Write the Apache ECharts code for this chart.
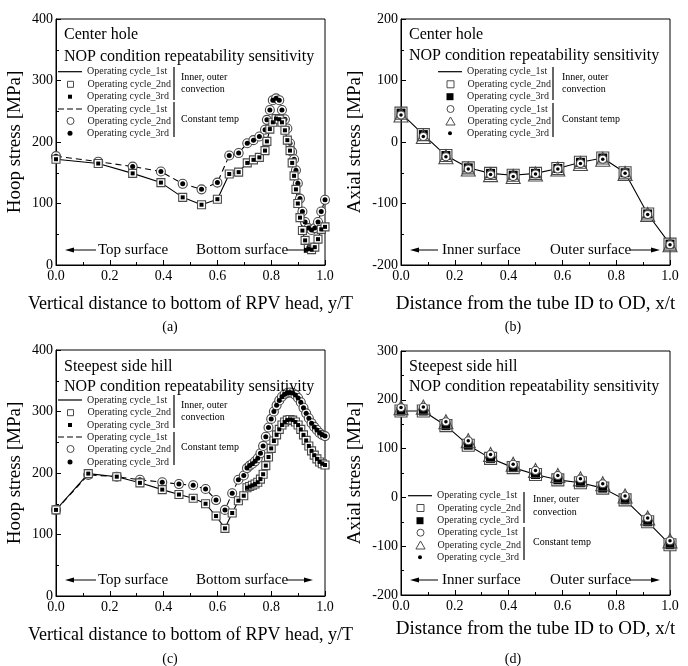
<!DOCTYPE html>
<html><head><meta charset="utf-8">
<script src="https://cdn.jsdelivr.net/npm/echarts@6/dist/echarts.min.js"></script>
<style>html,body{margin:0;padding:0;background:#fff}#c{width:688px;height:666px}</style>
</head><body><div id="c"></div>
<script>
const FONT = '"Liberation Serif", "Times New Roman", serif';

// ---------- data ----------
// (a) Center hole, hoop stress
const aX = [0, 0.157, 0.285, 0.39, 0.471, 0.541, 0.6, 0.644, 0.679, 0.711, 0.734, 0.756, 0.777,
  0.784, 0.795, 0.806, 0.818, 0.83, 0.84, 0.851, 0.86, 0.87, 0.878, 0.885, 0.892,
  0.899, 0.907, 0.916, 0.926, 0.938, 0.95, 0.962, 0.974, 0.986, 1.0];
const aConv = [172, 165, 149, 134, 110, 98, 107, 148, 151, 166, 171, 175, 186,
  201, 221, 232, 238, 237, 232, 219, 203, 186, 166, 145, 123,
  100, 77, 56, 40, 27, 25, 29, 42, 58, 62];
const aConst = [177, 168, 160, 152, 132, 123, 134, 178, 182, 198, 203, 209, 220,
  236, 252, 268, 271, 268, 252, 237, 222, 198, 184, 172, 154,
  133, 108, 87, 70, 60, 57, 60, 70, 87, 106];

// (b) Center hole, axial stress
const bX = [0, 0.083, 0.167, 0.25, 0.333, 0.417, 0.5, 0.583, 0.667, 0.75, 0.833, 0.917, 1.0];
const bConv = [47, 12, -22, -42, -51, -54, -51, -43, -33, -26, -50, -117, -166];
const bConst = [44, 9, -24, -44, -53, -56, -52, -44, -35, -28, -51, -118, -167];

// (c) Steepest side hill, hoop stress
const cX = [0, 0.12, 0.226, 0.312, 0.395, 0.457, 0.51, 0.556, 0.595, 0.628, 0.655, 0.678, 0.698,
  0.71, 0.72, 0.73, 0.74, 0.75, 0.76, 0.77, 0.78, 0.79, 0.80,
  0.81, 0.82, 0.83, 0.84, 0.85, 0.86, 0.87, 0.88, 0.89, 0.90,
  0.91, 0.92, 0.93, 0.94, 0.95, 0.96, 0.97, 0.98, 0.99, 1.00];
const cConv = [140, 199, 194, 184, 173, 165, 159, 150, 130, 110, 135, 155, 163,
  176, 178, 180, 182, 185, 190, 198, 212, 226, 240,
  252, 262, 271, 278, 283, 286, 287, 286, 283, 278,
  271, 262, 253, 244, 236, 229, 223, 218, 215, 213];
const cConst = [140, 197, 194, 189, 185, 182, 180, 174, 156, 140, 167, 189, 196,
  208, 212, 215, 219, 224, 232, 244, 259, 274, 288,
  300, 310, 318, 324, 328, 330, 331, 330, 327, 322,
  315, 306, 297, 289, 281, 275, 270, 265, 262, 260];

// (d) Steepest side hill, axial stress
const dX = [0, 0.083, 0.167, 0.25, 0.333, 0.417, 0.5, 0.583, 0.667, 0.75, 0.833, 0.917, 1.0];
const dConv = [177, 177, 147, 107, 80, 61, 47, 36, 30, 19, -5, -50, -97];
const dConst = [184, 185, 155, 116, 88, 68, 55, 45, 38, 28, 3, -42, -89];

// ---------- text ----------
const cycleLabels = ['Operating cycle_1st', 'Operating cycle_2nd', 'Operating cycle_3rd'];
const groupLabels = [['Inner, outer', 'convection'], ['Constant temp']];
const panelTitles = [
  ['Center hole', 'NOP condition repeatability sensitivity'],
  ['Center hole', 'NOP condition repeatability sensitivity'],
  ['Steepest side hill', 'NOP condition repeatability sensitivity'],
  ['Steepest side hill', 'NOP condition repeatability sensitivity']
];
const xNames = ['Vertical distance to bottom of RPV head, y/T', 'Distance from the tube ID to OD, x/t',
  'Vertical distance to bottom of RPV head, y/T', 'Distance from the tube ID to OD, x/t'];
const yNames = ['Hoop stress [MPa]', 'Axial stress [MPa]', 'Hoop stress [MPa]', 'Axial stress [MPa]'];
const yRanges = [[0, 400], [-200, 200], [0, 400], [-200, 300]];
const subLabels = ['(a)', '(b)', '(c)', '(d)'];
const surfaceLabels = [['Top surface', 'Bottom surface'], ['Inner surface', 'Outer surface'],
  ['Top surface', 'Bottom surface'], ['Inner surface', 'Outer surface']];

// ---------- layout ----------
const grids = [
  {left: 56, top: 19, width: 269, height: 246},
  {left: 401, top: 19, width: 269, height: 246},
  {left: 56, top: 350, width: 269, height: 246},
  {left: 401, top: 351, width: 269, height: 244}
];
const xNameSize = [18, 19, 18, 19];
const xNameGap = [30, 30, 30, 25];
const yNameGap = [31, 36, 31, 36];

const pairs = (xs, ys) => xs.map((x, i) => [x, ys[i]]);

const xAxes = [], yAxes = [];
grids.forEach((g, i) => {
  xAxes.push({
    type: 'value', gridIndex: i, min: 0, max: 1, interval: 0.2,
    name: xNames[i], nameLocation: 'middle', nameGap: xNameGap[i],
    nameTextStyle: {fontFamily: FONT, fontSize: xNameSize[i], color: '#000'},
    axisLine: {show: true, onZero: false, lineStyle: {color: '#000', width: 1}},
    axisTick: {show: true, inside: true, length: 5, lineStyle: {color: '#000'}},
    minorTick: {show: true, splitNumber: 2, length: 3, lineStyle: {color: '#000'}},
    splitLine: {show: false},
    axisLabel: {fontFamily: FONT, fontSize: 14, color: '#000', margin: 4,
      formatter: v => v.toFixed(1), showMinLabel: true, showMaxLabel: true}
  });
  yAxes.push({
    type: 'value', gridIndex: i, min: yRanges[i][0], max: yRanges[i][1], interval: 100,
    name: yNames[i], nameLocation: 'middle', nameGap: yNameGap[i],
    nameTextStyle: {fontFamily: FONT, fontSize: 19, color: '#000'},
    axisLine: {show: true, onZero: false, lineStyle: {color: '#000', width: 1}},
    axisTick: {show: true, inside: true, length: 5, lineStyle: {color: '#000'}},
    minorTick: {show: true, splitNumber: 2, length: 3, lineStyle: {color: '#000'}},
    splitLine: {show: false},
    axisLabel: {fontFamily: FONT, fontSize: 14, color: '#000', margin: 3,
      showMinLabel: true, showMaxLabel: true}
  });
});

const GRAY = '#4a4a4a';
const series = [];
const legends = [];

function addLine(name, gi, data, dashed, z) {
  series.push({name, type: 'line', xAxisIndex: gi, yAxisIndex: gi, data, symbol: 'none', showSymbol: false,
    itemStyle: {color: '#000'},
    lineStyle: {color: '#000', width: 1.1, type: dashed ? [6, 4] : 'solid'}, z, silent: true});
}
function addScatter(name, gi, data, symbol, size, fill, stroke, z) {
  series.push({name, type: 'scatter', xAxisIndex: gi, yAxisIndex: gi, data, symbol, symbolSize: size,
    itemStyle: {color: fill, borderColor: stroke || fill, borderWidth: stroke ? 1.1 : 0, opacity: 1}, z, silent: true});
}
const SOLID_ICON = 'path://M0,0H24V1.2H0Z';
const DASH_ICON = 'path://M0,0H6V1.2H0Z M9,0H15V1.2H9Z M18,0H24V1.2H18Z';
function addLegendRow(name, label, lx, cy, icon) {
  const item = {name};
  let ih = 10, left = lx;
  if (icon.line) {
    item.icon = icon.dashed ? DASH_ICON : SOLID_ICON;
    item.itemStyle = {color: '#000', borderWidth: 0};
  } else {
    const s = icon.size;
    ih = s;
    let w = s;
    if (icon.shape === 'circle') item.icon = 'circle';
    else if (icon.shape === 'square') item.icon = 'path://M0,0H' + s + 'V' + s + 'H0Z';
    else { w = s * 1.15; item.icon = 'path://M' + (w / 2) + ',0L' + w + ',' + s + 'H0Z'; }
    left = lx + 12 - w / 2;
    item.itemStyle = {color: icon.fill, borderColor: icon.stroke || icon.fill, borderWidth: icon.stroke ? 1 : 0};
  }
  const h = Math.max(ih, 12);
  legends.push({
    data: [item], left, top: cy - h / 2, padding: 0, itemGap: 0, itemWidth: 24,
    itemHeight: ih, selectedMode: false, symbolKeepAspect: true,
    formatter: () => label,
    textStyle: {fontFamily: FONT, fontSize: 10, color: '#222', lineHeight: 12}
  });
}

// panel a & c (hoop)
[[0, aX, aConv, aConst, 'a', 58, [71.7, 84.3, 96.7, 109, 121, 133.3]],
 [2, cX, cConv, cConst, 'c', 58, [400, 412.7, 425, 437, 449, 462]]].forEach(([gi, xs, conv, cons, k, lx, rows]) => {
  addLine(k + '1', gi, pairs(xs, conv), false, 2);
  addScatter(k + '2', gi, pairs(xs, conv), 'rect', 8, '#fff', GRAY, 4);
  addScatter(k + '3', gi, pairs(xs, conv), 'rect', 4, '#000', null, 5);
  addLine(k + '4', gi, pairs(xs, cons), true, 2);
  addScatter(k + '5', gi, pairs(xs, cons), 'circle', 9, '#fff', GRAY, 3);
  addScatter(k + '6', gi, pairs(xs, cons), 'circle', 5, '#000', null, 3.5);
  const icons = [{line: true}, {shape: 'square', size: 6, fill: '#fff', stroke: GRAY}, {shape: 'square', size: 4, fill: '#000'},
    {line: true, dashed: true}, {shape: 'circle', size: 7, fill: '#fff', stroke: GRAY}, {shape: 'circle', size: 5, fill: '#000'}];
  for (let r = 0; r < 6; r++) addLegendRow(k + (r + 1), cycleLabels[r % 3], lx, rows[r], icons[r]);
});

// panel b & d (axial)
[[1, bX, bConv, bConst, 'b', 438, [71.7, 84.3, 96.7, 109, 121, 133.3]],
 [3, dX, dConv, dConst, 'd', 408, [495.7, 508, 520.7, 532.7, 545, 557.3]]].forEach(([gi, xs, conv, cons, k, lx, rows]) => {
  addLine(k + '1', gi, pairs(xs, conv), false, 2);
  addScatter(k + '2', gi, pairs(xs, conv), 'rect', 12, '#fff', GRAY, 3);
  addScatter(k + '3', gi, pairs(xs, conv), 'rect', 9, '#000', null, 3.2);
  addScatter(k + '4', gi, pairs(xs, cons), 'circle', 8, '#fff', GRAY, 3.6);
  addScatter(k + '5', gi, pairs(xs, cons), 'triangle', 14, 'rgba(255,255,255,0)', GRAY, 3.4);
  addScatter(k + '6', gi, pairs(xs, cons), 'circle', 3.5, '#000', null, 3.8);
  const icons = [{line: true}, {shape: 'square', size: 7, fill: '#fff', stroke: GRAY}, {shape: 'square', size: 7, fill: '#000'},
    {shape: 'circle', size: 7, fill: '#fff', stroke: GRAY}, {shape: 'triangle', size: 8, fill: '#fff', stroke: GRAY},
    {shape: 'circle', size: 4, fill: '#000'}];
  for (let r = 0; r < 6; r++) addLegendRow(k + (r + 1), cycleLabels[r % 3], lx, rows[r], icons[r]);
});

// ---------- annotations ----------
const graphic = [];
function txt(x, y, text, size, align) {
  graphic.push({type: 'text', x, y, silent: true, z: 10,
    style: {text, fontFamily: FONT, fontSize: size, fill: '#000', align: align || 'left', verticalAlign: 'middle'}});
}
function seg(x1, y1, x2, y2, w) {
  graphic.push({type: 'line', silent: true, z: 10, shape: {x1, y1, x2, y2}, style: {stroke: '#000', lineWidth: w || 1}});
}
function arrowHead(x, y, dir) {
  graphic.push({type: 'polygon', silent: true, z: 10,
    shape: {points: [[x, y], [x - dir * 9, y - 2.6], [x - dir * 9, y + 2.6]]}, style: {fill: '#000'}});
}
const titlePos = [[64, 35, 57], [409, 35, 56], [64, 367, 387], [409, 367, 387]];
titlePos.forEach(([x, y1, y2], i) => { txt(x, y1, panelTitles[i][0], 16); txt(x, y2, panelTitles[i][1], 16); });

// group brackets + labels
const groupPos = [
  {bx: 174, tx: 181, b1: [67, 100], b2: [102, 137], t: [77, 89, 119]},
  {bx: 553, tx: 562, b1: [67, 100], b2: [103, 137], t: [77, 89, 119]},
  {bx: 174, tx: 181, b1: [395, 428], b2: [432, 465], t: [405, 417, 447]},
  {bx: 524, tx: 533, b1: [492, 523], b2: [527, 560], t: [499, 512, 542]}
];
groupPos.forEach(p => {
  seg(p.bx, p.b1[0], p.bx, p.b1[1], 1.2);
  seg(p.bx, p.b2[0], p.bx, p.b2[1], 1.2);
  txt(p.tx, p.t[0], groupLabels[0][0], 10);
  txt(p.tx, p.t[1], groupLabels[0][1], 10);
  txt(p.tx, p.t[2], groupLabels[1][0], 10);
});

// surface arrows
const surfPos = [
  {y: 250, a1: [65, 96], t1: 98, t2: 196, a2: [287, 313]},
  {y: 250, a1: [410, 438], t1: 442, t2: 550, a2: [630, 660]},
  {y: 580, a1: [65, 96], t1: 98, t2: 196, a2: [287, 313]},
  {y: 580, a1: [410, 438], t1: 442, t2: 550, a2: [630, 660]}
];
surfPos.forEach((p, i) => {
  seg(p.a1[0] + 6, p.y, p.a1[1], p.y, 1);
  arrowHead(p.a1[0], p.y, -1);
  txt(p.t1, p.y, surfaceLabels[i][0], 15);
  txt(p.t2, p.y, surfaceLabels[i][1], 15);
  seg(p.a2[0], p.y, p.a2[1] - 6, p.y, 1);
  arrowHead(p.a2[1], p.y, 1);
});

// sub labels
[[170, 327], [513, 327], [170, 659], [513, 659]].forEach(([x, y], i) => txt(x, y, subLabels[i], 14, 'center'));

const chart = echarts.init(document.getElementById('c'), null, {renderer: 'canvas'});
chart.setOption({
  animation: false,
  backgroundColor: '#fff',
  grid: grids.map(g => Object.assign({show: true, borderColor: '#000', borderWidth: 1, backgroundColor: 'transparent'}, g)),
  xAxis: xAxes,
  yAxis: yAxes,
  legend: legends,
  series,
  graphic
});
</script>
</body></html>
